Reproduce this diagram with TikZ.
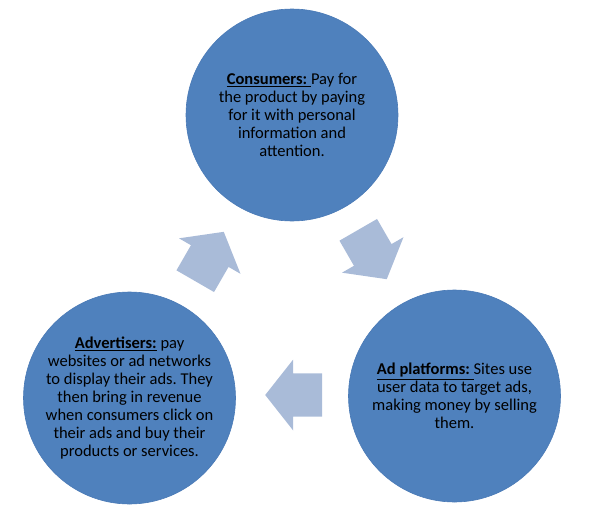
\documentclass[tikz,border=0pt]{standalone}
\usepackage{fontspec}
\setmainfont{Carlito}
\frenchspacing
\definecolor{circfill}{HTML}{4F81BD}
\definecolor{circline}{HTML}{4A7AB6}
\definecolor{arrowfill}{HTML}{A9BBD8}
\begin{document}
\begin{tikzpicture}[x=1pt,y=-1pt,
  bubble/.style={circle, fill=circfill, draw=circline, line width=0.6pt,
    minimum size=212pt, inner sep=0pt, align=center, text=black,
    font=\fontsize{16.5}{18}\selectfont},
  blockarrow/.style={fill=arrowfill, draw=none}]
\useasboundingbox (0,0) rectangle (598,515);
\node[bubble] (cons) at (292,115) {\underline{\textbf{Consumers:}\ }Pay for\\the product by paying\\for it with personal\\information and\\attention.};
\node[bubble] (adv) at (129.5,398) {\underline{\textbf{Advertisers:}}\ pay\\websites or ad networks\\to display their ads. They\\then bring in revenue\\when consumers click on\\their ads and buy their\\products or services.};
\node[bubble] (plat) at (454.5,396) {\underline{\textbf{Ad platforms:}\ }Sites use\\user data to target ads,\\making money by selling\\them.};
\foreach \cx/\cy/\ang in {293.7/395/180, 209.5/256.5/60, 372.5/254.5/-60}{
  \begin{scope}[shift={(\cx,\cy)}, rotate=\ang]
    \fill[blockarrow] (28.5,0) -- (0.5,35.5) -- (0.5,21.7) -- (-28.5,21.7)
      -- (-28.5,-21.7) -- (0.5,-21.7) -- (0.5,-35.5) -- cycle;
  \end{scope}
}
\end{tikzpicture}
\end{document}
